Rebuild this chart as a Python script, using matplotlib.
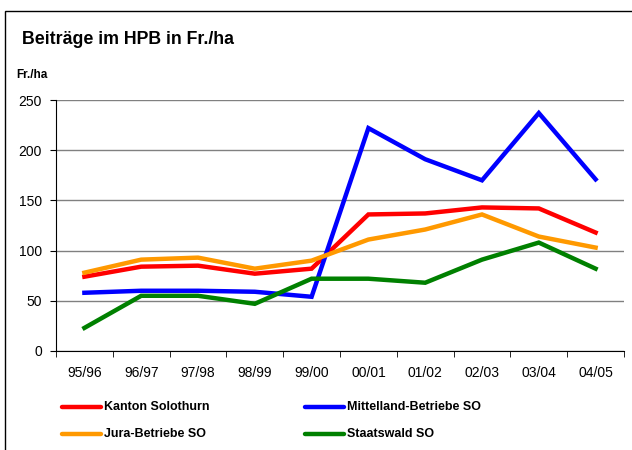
import numpy as np
import matplotlib.pyplot as plt
from matplotlib.patches import Rectangle
from matplotlib.lines import Line2D

plt.rcParams['font.family'] = ['Liberation Sans', 'DejaVu Sans']

# daten
jahre = ['95/96', '96/97', '97/98', '98/99', '99/00',
         '00/01', '01/02', '02/03', '03/04', '04/05']
kanton = [74, 84, 85, 77, 82, 136, 137, 143, 142, 118]
mittelland = [58, 60, 60, 59, 54, 222, 191, 170, 237, 171]
jura = [78, 91, 93, 82, 90, 111, 121, 136, 114, 103]
staatswald = [23, 55, 55, 47, 72, 72, 68, 91, 108, 82]

namen = ['Kanton Solothurn', 'Mittelland-Betriebe SO', 'Jura-Betriebe SO', 'Staatswald SO']
farben = ['#ff0000', '#0000ff', '#ff9900', '#008000']

W, H = 632, 450
fig = plt.figure(figsize=(W / 100, H / 100), dpi=100)

# rahmen um die grafik
fig.patches.append(Rectangle((5 / W, -0.1), 1.2, 1 - 11 / H + 0.1, transform=fig.transFigure,
                             fill=False, edgecolor='black', lw=1.0))

ax = fig.add_axes([56 / W, 1 - 351 / H, 568 / W, 251 / H])
x = np.arange(len(jahre))
for serie, farbe in zip([kanton, mittelland, jura, staatswald], farben):
    ax.plot(x, serie, color=farbe, lw=3.2, solid_joinstyle='miter')

ax.set_xlim(-0.5, len(jahre) - 0.5)
ax.set_ylim(0, 250)
ax.set_yticks(np.arange(0, 251, 50))
ax.set_xticks(x)
ax.set_xticklabels(jahre)
ax.set_xticks(np.arange(-0.5, len(jahre)), minor=True)
ax.tick_params(axis='x', which='major', length=0, pad=11, labelsize=10)
ax.tick_params(axis='x', which='minor', length=4, direction='out', color='black')
ax.tick_params(axis='y', length=4, direction='out', labelsize=10, pad=6)
ax.grid(axis='y', color='#808080', lw=1.0)
ax.set_axisbelow(True)
for s in ['top', 'right']:
    ax.spines[s].set_visible(False)
for s in ['left', 'bottom']:
    ax.spines[s].set_color('black')

fig.text(22 / W, 1 - 40 / H, 'Beiträge im HPB in Fr./ha', fontsize=12.8, fontweight='bold', va='center')
fig.text(16 / W, 1 - 75 / H, 'Fr./ha', fontsize=8.5, fontweight='bold', va='center')

# legende
pos = [(62, 407), (305, 407), (62, 434), (305, 434)]
for (px, py), name, farbe in zip(pos, namen, farben):
    fig.add_artist(Line2D([px / W, (px + 39) / W], [1 - py / H, 1 - py / H], color=farbe, lw=3.2,
                          transform=fig.transFigure, solid_capstyle='round'))
    fig.text((px + 42) / W, 1 - py / H, name, fontsize=9, fontweight='bold', va='center')

plt.savefig('out.png', dpi=100)
